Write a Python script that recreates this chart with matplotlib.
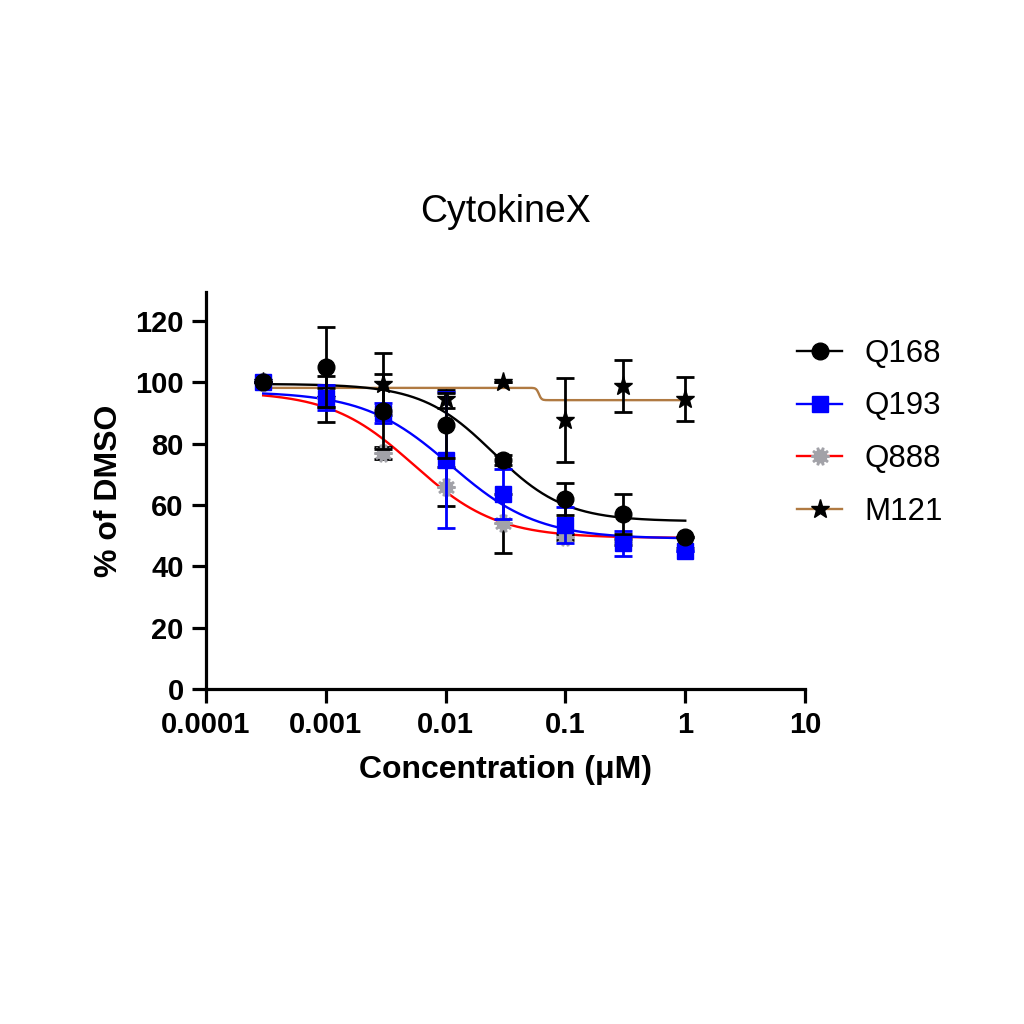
import numpy as np
import matplotlib
matplotlib.use('Agg')
from matplotlib import pyplot as plt
from matplotlib.path import Path

plt.rcParams['font.family'] = ['Liberation Sans', 'DejaVu Sans']

""" Data read off the reference """
conc = [0.0003, 0.001, 0.003, 0.01, 0.03, 0.1, 0.3, 1]

q168 = [100, 105, 90.5, 86, 74.7, 62, 57, 49.7]
q168_sd = [0, 13, 12.2, 10.5, 1.5, 5.2, 6.5, 0]
q193 = [100, 95, 90, 74.7, 63.6, 53.5, 47.5, 45.1]
q193_sd = [0, 4, 3.3, 22.1, 8.2, 6, 4, 0]
q888 = [100, 95, 77, 66, 54, 49.7, 48, 46]
q888_sd = [0, 3, 2, 6.4, 9.5, 1, 1, 0]
m121 = [100, 94.5, 99.5, 94.5, 100, 87.7, 98.8, 94.7]
m121_sd = [0, 7.5, 10, 3, 0, 13.7, 8.6, 7.2]

# fitted 4PL parameters (top, bottom, IC50, hill) as drawn
fit_q168 = (99.5, 54.7, 0.025, 1.45)
fit_q193 = (97.0, 49.0, 0.011, 1.2)
fit_q888 = (97.0, 49.3, 0.0054, 1.25)
fit_m121 = (98.2, 94.2, 0.06, 40)

labels = ['Q168', 'Q193', 'Q888', 'M121']
xticklabels = ['0.0001', '0.001', '0.01', '0.1', '1', '10']


def four_pl(x, top, bottom, ic50, hill):
    """ standard sigmoidal dose-response """
    return bottom + (top - bottom) / (1 + (x / ic50) ** hill)


def gear_marker(n=10, r_in=0.72):
    """ cog-like marker used for Q888 """
    verts = []
    step = 2 * np.pi / n
    for k in range(n):
        a = k * step
        for ang, r in [(a - 0.22 * step, r_in), (a - 0.14 * step, 1.0),
                       (a + 0.14 * step, 1.0), (a + 0.22 * step, r_in)]:
            verts.append((r * np.cos(ang), r * np.sin(ang)))
    verts.append(verts[0])
    return Path(verts, closed=True)


brown = '#B07A42'
grey = '#A2A2A8'

fig = plt.figure(figsize=(10.24, 10.24), dpi=100)
ax = fig.add_axes([0.2012, 0.327, 0.585, 0.388])

xs = np.logspace(np.log10(conc[0]), np.log10(conc[-1]), 400)

# drawing order: M121 at the bottom, Q168 on top
series = [
    (m121, m121_sd, fit_m121, brown, 'black', '*', 14, 'black', 2.5),
    (q888, q888_sd, fit_q888, 'red', grey, gear_marker(), 12.5, 'black', 3),
    (q193, q193_sd, fit_q193, 'blue', 'blue', 's', 11.5, 'blue', 4),
    (q168, q168_sd, fit_q168, 'black', 'black', 'o', 12, 'black', 5),
]
names = ['M121', 'Q888', 'Q193', 'Q168']
handles = {}
for (vals, sd, fit, lc, mc, mk, ms, ec, z), name in zip(series, names):
    ax.plot(xs, four_pl(xs, *fit), color=lc, lw=1.7, zorder=2)
    ax.errorbar(conc, vals, yerr=sd, fmt='none', ecolor=ec, elinewidth=2.0,
                capsize=6.5, capthick=2.0, zorder=z)
    ax.plot(conc, vals, ls='none', marker=mk, ms=ms, color=mc, mec=mc,
            zorder=z + 0.2)
    h, = ax.plot([], [], color=lc, lw=1.7, marker=mk, ms=ms, mfc=mc, mec=mc)
    handles[name] = h

ax.set_xscale('log')
ax.set_xlim(1e-4, 10)
ax.set_ylim(0, 129.5)
ax.set_xticks([1e-4, 1e-3, 1e-2, 1e-1, 1, 10])
ax.set_xticklabels(xticklabels)
ax.minorticks_off()
ax.set_yticks(range(0, 121, 20))

for s in ['top', 'right']:
    ax.spines[s].set_visible(False)
for s in ['left', 'bottom']:
    ax.spines[s].set_linewidth(2.3)
ax.tick_params(width=2.3, length=10, labelsize=21, pad=6)
for t in ax.get_xticklabels() + ax.get_yticklabels():
    t.set_fontweight('bold')

ax.set_xlabel('Concentration (\u03bcM)', fontsize=23, fontweight='bold',
              labelpad=11)
ax.set_ylabel('% of DMSO', fontsize=23, fontweight='bold', labelpad=8)

fig.text(0.4937, 1 - 212 / 1024, 'CytokineX', fontsize=27, ha='center',
         va='center')

ax.legend([handles[n] for n in labels], labels, loc='upper left',
          bbox_to_anchor=(797 / 1024, 1 - 339 / 1024),
          bbox_transform=fig.transFigure, frameon=False, fontsize=22.5,
          handlelength=1.45, handletextpad=0.72, labelspacing=0.72,
          borderpad=0, borderaxespad=0)

plt.savefig('out.png', dpi=100)
